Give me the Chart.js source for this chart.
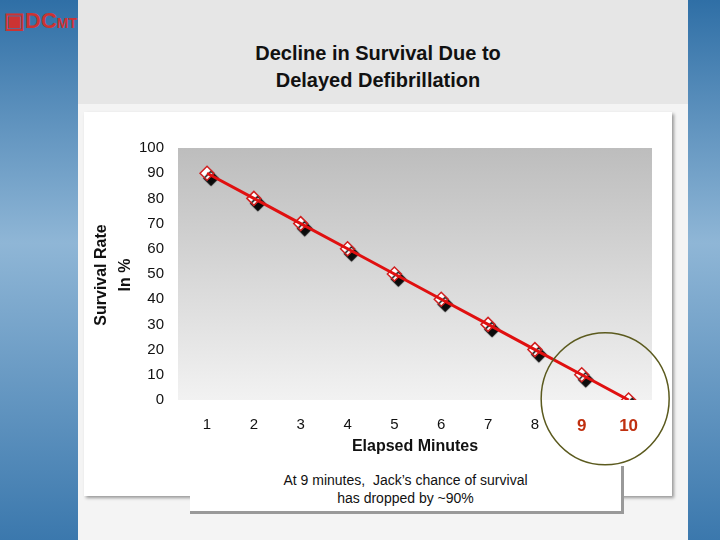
<!DOCTYPE html>
<html><head><meta charset="utf-8">
<script src="https://cdn.jsdelivr.net/npm/chart.js@4"></script>
<style>
body{margin:0;width:720px;height:540px;overflow:hidden;position:relative;font-family:"Liberation Sans",Arial,sans-serif;
background:linear-gradient(180deg,#2f6fa6 0%,#8fb6d6 45%,#3b78ad 100%);}
#head{position:absolute;left:78px;top:0;width:610px;height:104px;background:#e6e6e6;}
#slide{position:absolute;left:78px;top:104px;width:610px;height:436px;background:#f4f4f4;}
#panel{position:absolute;left:84px;top:112px;width:588px;height:384px;background:#fff;box-shadow:2px 2px 3px #999;}
#title{position:absolute;left:78px;top:40px;width:600px;text-align:center;font-weight:bold;font-size:20px;line-height:27px;color:#111;}
#note{position:absolute;left:190px;top:466px;width:434px;height:48px;background:#fff;border-right:3px solid #999;border-bottom:3px solid #999;
text-align:center;font-size:14px;line-height:18px;padding-top:5px;box-sizing:border-box;color:#111;}
#logo{position:absolute;left:4px;top:8px;width:70px;height:60px;font-weight:bold;color:#c33;font-size:22px;}
canvas{position:absolute;left:0;top:0;}
</style></head><body>
<div id="head"></div><div id="slide"></div><div id="panel"></div>
<div id="logo">▣DC<span style="font-size:14px">MT</span></div>
<div id="title">Decline in Survival Due to<br>Delayed Defibrillation</div>
<canvas id="c" width="720" height="540"></canvas>
<div id="note">At 9 minutes,&nbsp; Jack’s chance of survival<br>has dropped by ~90%</div>
<script>
const minutes = [1, 2, 3, 4, 5, 6, 7, 8, 9, 10];
const survival = [90, 80, 70, 60, 50, 40, 30, 20, 10, 0];
const highlight = [9, 10];
const isHi = c => !!(c && c.tick && highlight.includes(c.tick.value));
const points = minutes.map((m, i) => ({ x: m, y: survival[i] }));

const bgPlugin = {
  id: "bg",
  beforeDraw(chart) {
    const { ctx, chartArea: a } = chart;
    const g = ctx.createLinearGradient(0, a.top, 0, a.bottom);
    g.addColorStop(0, "#bdbdbd");
    g.addColorStop(1, "#f2f2f2");
    ctx.save();
    ctx.fillStyle = g;
    ctx.fillRect(a.left, a.top, a.right - a.left, a.bottom - a.top);
    ctx.restore();
  },
  beforeDatasetDraw(chart, args) {
    chart.ctx.save();
    if (args.index === 1) {
      chart.ctx.shadowColor = "rgba(0,0,0,0.95)";
      chart.ctx.shadowOffsetX = 4;
      chart.ctx.shadowOffsetY = 5;
      chart.ctx.shadowBlur = 1;
    }
  },
  afterDatasetDraw(chart) {
    chart.ctx.restore();
  },
  afterDraw(chart) {
    const { ctx, scales } = chart;
    const cx = scales.x.getPixelForValue(9.5), cy = scales.y.getPixelForValue(0.5);
    ctx.save();
    ctx.strokeStyle = "#5b5a1e";
    ctx.lineWidth = 1.5;
    ctx.beginPath();
    ctx.ellipse(cx, cy, 64, 66, 0, 0, Math.PI * 2);
    ctx.stroke();
    ctx.translate(100, 275);
    ctx.rotate(-Math.PI / 2);
    ctx.textAlign = "center";
    ctx.fillStyle = "#111";
    ctx.font = "bold 16px 'Liberation Sans', Arial";
    ctx.fillText("Survival Rate", 0, 6);
    ctx.fillText("In %", 0, 30);
    ctx.restore();
  }
};

new Chart(document.getElementById("c"), {
  type: "line",
  data: {
    datasets: [{
      data: points,
      borderColor: "#e01010",
      borderWidth: 3,
      pointRadius: 0,
      tension: 0
    }, {
      data: points,
      showLine: false,
      pointStyle: "rectRot",
      pointRadius: 7,
      pointBackgroundColor: "#fff",
      pointBorderColor: "#d02020",
      pointBorderWidth: 1.5
    }]
  },
  options: {
    responsive: false,
    animation: false,
    layout: { padding: { left: 138, top: 148, right: 68, bottom: 80 } },
    plugins: { legend: { display: false }, tooltip: { enabled: false } },
    scales: {
      x: {
        type: "linear", min: 0.38, max: 10.5,
        afterFit: s => { s.height = 60; },
        afterBuildTicks: s => { s.ticks = minutes.map(v => ({ value: v })); },
        grid: { display: false },
        border: { display: false },
        ticks: {
          padding: 8,
          color: c => isHi(c) ? "#c03010" : "#111",
          font: c => isHi(c)
            ? { size: 17, weight: "bold", family: "Liberation Sans" }
            : { size: 15, family: "Liberation Sans" }
        },
        title: { display: true, text: "Elapsed Minutes", color: "#111", padding: { top: 6 },
          font: { size: 16, weight: "bold", family: "Liberation Sans" } }
      },
      y: {
        min: 0, max: 100,
        afterFit: s => { s.width = 40; },
        grid: { display: false },
        border: { display: false },
        ticks: { stepSize: 10, color: "#111", padding: 6, font: { size: 15, family: "Liberation Sans" } }
      }
    }
  },
  plugins: [bgPlugin]
});
</script>
</body></html>
